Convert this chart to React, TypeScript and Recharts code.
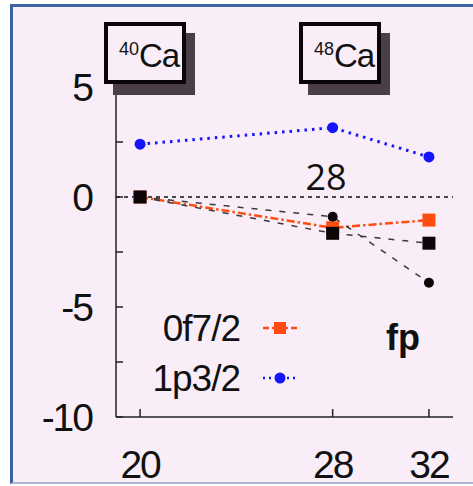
import React from "react";
import { Legend, Line, LineChart, ReferenceLine, XAxis, YAxis } from "recharts";

// neutron number N
const neutronN = [20, 28, 32];
// single-particle energy shifts (MeV)
const f72Values = [0, -1.4, -1.05];
const p32Values = [2.4, 3.15, 1.82];
const blackCircleValues = [0, -0.9, -3.9];
const blackSquareValues = [0, -1.65, -2.1];

const xTicks = [20, 28, 32];
const yTicks = [-10, -7.5, -5, -2.5, 0, 2.5, 5];

const data = neutronN.map((n, i) => ({
  n,
  f72: f72Values[i],
  p32: p32Values[i],
  bc: blackCircleValues[i],
  bs: blackSquareValues[i],
}));

const BG = "#f9eef8";
const ORANGE = "#ff4d12";
const BLUE = "#1414ff";
const FONT = "'Liberation Sans', Arial, sans-serif";

type DotProps = { cx?: number; cy?: number; index?: number };

const squareDot = (color: string, size: number) => (p: DotProps) => (
  <rect
    key={`s-${color}-${p.index}`}
    x={(p.cx ?? 0) - size / 2}
    y={(p.cy ?? 0) - size / 2}
    width={size}
    height={size}
    fill={color}
  />
);

const circleDot = (color: string, r: number) => (p: DotProps) => (
  <circle key={`c-${color}-${p.index}`} cx={p.cx} cy={p.cy} r={r} fill={color} />
);

function YTick(props: any) {
  const { x, y, payload } = props;
  const v = payload.value as number;
  const showLabel = v % 5 === 0;
  return (
    <g>
      <line x1={x} x2={x + 7} y1={y} y2={y} stroke="#222" strokeWidth={1.5} />
      {showLabel && (
        <text
          x={x - 24}
          y={y}
          dy="0.36em"
          textAnchor="end"
          fontSize={39}
          letterSpacing={-2}
          fontFamily={FONT}
          fill="#111"
        >
          {v}
        </text>
      )}
    </g>
  );
}

function RightTick(props: any) {
  const { x, y } = props;
  return <line x1={x - 7} x2={x} y1={y} y2={y} stroke="#222" strokeWidth={1.5} />;
}

function XTick(props: any) {
  const { x, y, payload } = props;
  return (
    <g>
      <line x1={x} x2={x} y1={y - 8} y2={y} stroke="#222" strokeWidth={1.5} />
      <text
        x={x}
        y={y + 61}
        textAnchor="middle"
        fontSize={39}
        letterSpacing={-2}
        fontFamily={FONT}
        fill="#111"
      >
        {payload.value}
      </text>
    </g>
  );
}

const legendItems = [
  { label: "0f7/2", color: ORANGE, dash: "6 3 2 3", marker: "square" },
  { label: "1p3/2", color: BLUE, dash: "2 4", marker: "circle" },
];

function LegendBox() {
  return (
    <svg width={170} height={110}>
      {legendItems.map((it, i) => {
        const cy = 28 + i * 50;
        return (
          <g key={it.label}>
            <text
              x={100}
              y={cy}
              dy="0.36em"
              textAnchor="end"
              fontSize={37}
              letterSpacing={-1}
              fontFamily={FONT}
              fill="#111"
            >
              {it.label}
            </text>
            <line x1={123} x2={157} y1={cy} y2={cy} stroke={it.color} strokeWidth={2.5} strokeDasharray={it.dash} />
            {it.marker === "square" ? (
              <rect x={134} y={cy - 6} width={12} height={12} fill={it.color} />
            ) : (
              <circle cx={140} cy={cy} r={5.5} fill={it.color} />
            )}
          </g>
        );
      })}
    </svg>
  );
}

function NucleusBox({ x, mass }: { x: number; mass: string }) {
  return (
    <g>
      <rect x={x + 9} y={33} width={82} height={62} fill="#4a3f46" />
      <rect x={x + 2} y={24} width={78} height={58} fill={BG} stroke="#0a0508" strokeWidth={4} />
      <text x={x + 15} y={55} fontSize={18} fontFamily={FONT} fill="#111">
        {mass}
      </text>
      <text x={x + 35} y={67} fontSize={33} letterSpacing={-1} fontFamily={FONT} fill="#111">
        Ca
      </text>
    </g>
  );
}

export default function App() {
  return (
    <div style={{ position: "absolute", left: 0, top: 0, width: 473, height: 486, background: "#fff" }}>
      <div
        style={{
          position: "absolute",
          left: 10,
          top: 4,
          width: 463,
          height: 480,
          background: BG,
          borderLeft: "3px solid #3d62a3",
          borderTop: "3px solid #3d62a3",
          borderBottom: "2px solid #a9b6cc",
          boxSizing: "border-box",
        }}
      />
      <div style={{ position: "absolute", left: 0, top: 0 }}>
        <LineChart width={473} height={486} data={data} margin={{ top: 87, right: 20, bottom: 0, left: 0 }}>
          <XAxis
            dataKey="n"
            type="number"
            domain={[19, 33]}
            ticks={xTicks}
            height={69}
            tickSize={0}
            tickMargin={0}
            tickLine={false}
            tick={<XTick />}
            axisLine={{ stroke: "#222", strokeWidth: 1.5 }}
            allowDataOverflow
          />
          <XAxis
            xAxisId="top"
            orientation="top"
            dataKey="n"
            type="number"
            domain={[19, 33]}
            height={0}
            tick={false}
            tickLine={false}
            axisLine={{ stroke: "#222", strokeWidth: 1.5 }}
          />
          <YAxis
            type="number"
            domain={[-10, 5]}
            ticks={yTicks}
            width={116}
            tickSize={0}
            tickMargin={0}
            tickLine={false}
            tick={<YTick />}
            axisLine={{ stroke: "#222", strokeWidth: 1.5 }}
            interval={0}
          />
          <YAxis
            yAxisId="right"
            orientation="right"
            type="number"
            domain={[-10, 5]}
            ticks={yTicks}
            width={0}
            tickSize={0}
            tickMargin={0}
            tickLine={false}
            tick={<RightTick />}
            axisLine={{ stroke: "#222", strokeWidth: 1.5 }}
            interval={0}
          />
          <ReferenceLine y={0} stroke="#111" strokeWidth={1.5} strokeDasharray="4 4" />
          <Line
            dataKey="p32"
            name="1p3/2"
            stroke={BLUE}
            strokeWidth={3}
            strokeDasharray="2.5 5"
            dot={circleDot(BLUE, 5.5)}
            activeDot={false}
            isAnimationActive={false}
          />
          <Line
            dataKey="f72"
            name="0f7/2"
            stroke={ORANGE}
            strokeWidth={2.5}
            strokeDasharray="8 3 2.5 3"
            dot={squareDot(ORANGE, 13)}
            activeDot={false}
            isAnimationActive={false}
          />
          <Line
            dataKey="bc"
            stroke="#3a3a3a"
            strokeWidth={1.5}
            strokeDasharray="6 8"
            dot={circleDot("#0d0609", 5)}
            activeDot={false}
            legendType="none"
            isAnimationActive={false}
          />
          <Line
            dataKey="bs"
            stroke="#3a3a3a"
            strokeWidth={1.5}
            strokeDasharray="6 8"
            dot={squareDot("#0d0609", 13)}
            activeDot={false}
            legendType="none"
            isAnimationActive={false}
          />
          <Legend
            layout="vertical"
            align="center"
            verticalAlign="middle"
            content={() => <LegendBox />}
            wrapperStyle={{ left: 140, top: 300, width: 170, height: 110 }}
          />
        </LineChart>
      </div>
      <svg
        width={473}
        height={486}
        style={{ position: "absolute", left: 0, top: 0, pointerEvents: "none" }}
      >
        <NucleusBox x={104} mass="40" />
        <NucleusBox x={299} mass="48" />
        <text x={326} y={190} textAnchor="middle" fontSize={36} fontFamily="'Open Sans', sans-serif" fill="#111">
          28
        </text>
        <text x={386} y={350} fontSize={36} fontWeight="bold" fontFamily={FONT} fill="#111">
          fp
        </text>
      </svg>
    </div>
  );
}
